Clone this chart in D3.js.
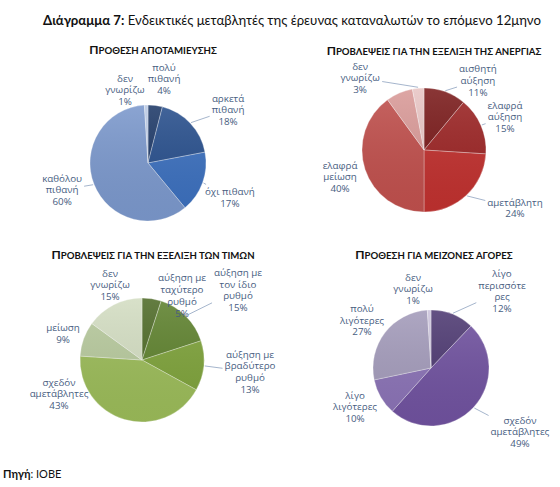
<!DOCTYPE html>
<html>
<head>
<meta charset="utf-8">
<script src="https://cdn.jsdelivr.net/npm/d3@7"></script>
<style>
body { margin: 0; background: #fff; }
text { font-family: Lato, "Noto Sans", sans-serif; }
text.lbl { font-family: "Open Sans", "Noto Sans", sans-serif; }
</style>
</head>
<body>
<div id="chart"></div>
<script>
// data (percent of answers, clockwise from 12 o'clock)
var savingsCats = ["πολύ\nπιθανή", "αρκετά\nπιθανή", "όχι πιθανή", "καθόλου\nπιθανή", "δεν\nγνωρίζω"];
var savingsValues = [4, 18, 17, 60, 1];

var unempCats = ["αισθητή\nαύξηση", "ελαφρά\nαύξηση", "αμετάβλητη", "ελαφρά\nμείωση", "αισθητή\nμείωση", "δεν\nγνωρίζω"];
var unempValues = [11, 15, 24, 40, 7, 3];

var priceCats = ["αύξηση με\nταχύτερο\nρυθμό", "αύξηση με\nτον ίδιο\nρυθμό", "αύξηση με\nβραδύτερο\nρυθμό", "σχεδόν\nαμετάβλητες", "μείωση", "δεν\nγνωρίζω"];
var priceValues = [5, 15, 13, 43, 9, 15];

var purchCats = ["λίγο\nπερισσότε\nρες", "σχεδόν\nαμετάβλητες", "λίγο\nλιγότερες", "πολύ\nλιγότερες", "δεν\nγνωρίζω"];
var purchValues = [12, 49, 10, 27, 1];

var chartTitles = ["Πρόθεση αποταμίευσης", "Προβλέψεις για την εξέλιξη της ανεργίας",
                   "Προβλέψεις για την εξέλιξη των τιμών", "Πρόθεση για μείζονες αγορές"];

// set up the svg
var width = 560, height = 487;
var svg = d3.select("#chart")
  .append("svg")
  .attr("width", width)
  .attr("height", height);

// soft shading over each pie
var shade = svg.append("defs").append("linearGradient")
  .attr("id", "shade")
  .attr("x1", "0%").attr("y1", "0%")
  .attr("x2", "0%").attr("y2", "100%");
shade.append("stop").attr("offset", "0%").attr("stop-color", "#fff").attr("stop-opacity", 0.12);
shade.append("stop").attr("offset", "100%").attr("stop-color", "#000").attr("stop-opacity", 0.05);

// main title
var title = svg.append("text").attr("x", 43).attr("y", 25).attr("font-size", 13.2).attr("fill", "#111");
title.append("tspan").attr("font-weight", "bold").text("Διάγραμμα 7:");
title.append("tspan").text(" Ενδεικτικές μεταβλητές της έρευνας καταναλωτών το επόμενο 12μηνο");

// source
var src = svg.append("text").attr("x", 3).attr("y", 478).attr("font-size", 11).attr("fill", "#111");
src.append("tspan").attr("font-weight", "bold").text("Πηγή");
src.append("tspan").text(": ΙΟΒΕ");

function smallCapsTitle(txt, x, y) {
  var up = txt.toUpperCase().normalize("NFD").replace(/[\u0300-\u036f]/g, "");
  var t = svg.append("text").attr("x", x).attr("y", y)
    .attr("text-anchor", "middle").attr("font-weight", "bold").attr("fill", "#111");
  t.append("tspan").attr("font-size", 12).text(up.charAt(0));
  t.append("tspan").attr("font-size", 9.6).text(up.slice(1));
}

function drawPie(cfg) {
  smallCapsTitle(cfg.title, cfg.tx, cfg.ty);

  var g = svg.append("g").attr("transform", "translate(" + cfg.cx + "," + cfg.cy + ")");
  var pie = d3.pie().sort(null).value(function(d) { return d; });
  var arcs = pie(cfg.values);
  var arc = d3.arc().innerRadius(0).outerRadius(cfg.r);

  g.selectAll("path.slice")
    .data(arcs)
    .enter().append("path")
    .attr("class", "slice")
    .attr("d", arc)
    .attr("fill", function(d, i) { return cfg.colors[i]; })
    .attr("stroke", "#fff")
    .attr("stroke-opacity", 0.45)
    .attr("stroke-width", 0.7);

  g.append("circle").attr("r", cfg.r).attr("fill", "url(#shade)");

  // labels
  arcs.forEach(function(d, i) {
    if (!cfg.show[i]) return;
    var mid = (d.startAngle + d.endAngle) / 2;
    var a = mid + cfg.shift[i] * Math.PI / 180;
    var lx = Math.sin(a) * cfg.dist[i], ly = -Math.cos(a) * cfg.dist[i];
    var lines = cfg.cats[i].split("\n").concat([d.value + "%"]);
    var lh = 11.8;
    var t = g.append("text")
      .attr("class", "lbl")
      .attr("text-anchor", "middle")
      .attr("font-size", 9.8)
      .attr("fill", "#475d7f");
    lines.forEach(function(s, k) {
      t.append("tspan")
        .attr("x", lx)
        .attr("y", ly + (k - (lines.length - 1) / 2) * lh)
        .attr("dy", "0.35em")
        .text(s);
    });

    if (cfg.leader[i]) {
      var bb = t.node().getBBox();
      var x0 = bb.x - 2, x1 = bb.x + bb.width + 2, y0 = bb.y - 1, y1 = bb.y + bb.height + 1;
      var sx = Math.sin(mid) * (cfg.r + 1), sy = -Math.cos(mid) * (cfg.r + 1);
      var dx = lx - sx, dy = ly - sy;
      var tx = dx > 0 ? (x0 - sx) / dx : dx < 0 ? (x1 - sx) / dx : -Infinity;
      var ty = dy > 0 ? (y0 - sy) / dy : dy < 0 ? (y1 - sy) / dy : -Infinity;
      var te = Math.max(tx, ty);
      if (te > 0.05) {
        g.append("line")
          .attr("x1", sx).attr("y1", sy)
          .attr("x2", sx + dx * te).attr("y2", sy + dy * te)
          .attr("stroke", "#8ea2bf")
          .attr("stroke-width", 0.8);
      }
    }
  });
}

drawPie({
  title: chartTitles[0], tx: 153, ty: 54,
  cx: 148, cy: 163, r: 58,
  cats: savingsCats, values: savingsValues,
  colors: ["#1f3a68", "#284f8c", "#3b6fbd", "#7b98cc", "#b9c9e4"],
  dist: [85.5, 96, 89, 90, 76.5],
  shift: [3.6, 9.7, 3.3, 4.2, -15.7],
  show: [1, 1, 1, 1, 1],
  leader: [0, 1, 1, 1, 1]
});

drawPie({
  title: chartTitles[1], tx: 434, ty: 55,
  cx: 424, cy: 150, r: 62,
  cats: unempCats, values: unempValues,
  colors: ["#7a1b1b", "#9c2626", "#c0312f", "#c0504d", "#d99a98", "#e8c5c4"],
  dist: [88, 87.5, 107.9, 88.2, 0, 96.3],
  shift: [18, 1.2, -14.3, 0.2, 0, -36.2],
  show: [1, 1, 1, 1, 0, 1],
  leader: [1, 1, 1, 0, 0, 1]
});

drawPie({
  title: chartTitles[2], tx: 153, ty: 259,
  cx: 142, cy: 360, r: 62,
  cats: priceCats, values: priceValues,
  colors: ["#4f6b28", "#5f822f", "#7ea23b", "#9bbb59", "#b7c99d", "#d3ddc2"],
  dist: [75.9, 118.8, 108.7, 89.7, 83.3, 81.5],
  shift: [22.8, 8.9, 0.9, 51.5, -1.3, 3.9],
  show: [1, 1, 1, 1, 1, 1],
  leader: [0, 1, 1, 0, 0, 0]
});

drawPie({
  title: chartTitles[3], tx: 434, ty: 259,
  cx: 431, cy: 368, r: 58,
  cats: purchCats, values: purchValues,
  colors: ["#4e3a72", "#70529f", "#8a72b5", "#a39bba", "#cbc3db"],
  dist: [104.7, 109.6, 85.4, 84, 81],
  shift: [20.9, -7, 2.8, -2.5, -11],
  show: [1, 1, 1, 1, 1],
  leader: [1, 1, 0, 1, 1]
});
</script>
</body>
</html>
